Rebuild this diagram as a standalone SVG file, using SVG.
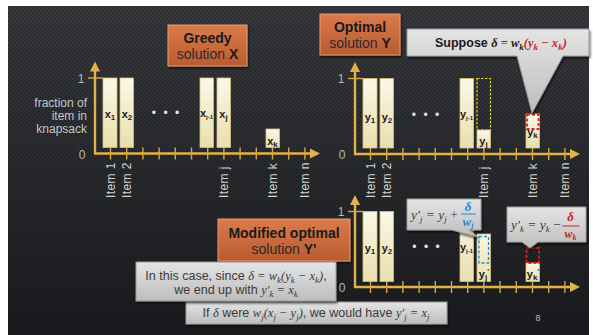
<svg xmlns="http://www.w3.org/2000/svg" xmlns:xlink="http://www.w3.org/1999/xlink" width="593" height="335" viewBox="0 0 593 335">
<style>
.sans{font-family:"Liberation Sans","DejaVu Sans",sans-serif}
.math{font-family:"Liberation Serif","DejaVu Serif",serif;font-style:italic}
.bar{fill:url(#barG);stroke:#d6c07a;stroke-width:0.8}
.ax{stroke:#e2b24a;stroke-width:2.4;fill:none}
.tk{stroke:#d6a845;stroke-width:1.4;fill:none}
.axf{fill:#e2b24a}
.num{font-family:"Liberation Sans",sans-serif;font-size:12px;fill:#b8b8b8;text-anchor:middle}
.item{font-family:"Liberation Sans",sans-serif;font-size:12px;fill:#d2d2d2;letter-spacing:0.4px}
.bl{font-family:"Liberation Sans",sans-serif;font-weight:bold;font-size:11px;fill:#1a1a1a;text-anchor:middle}
.org{fill:url(#orgG);stroke:#e89a6e;stroke-width:1;filter:url(#sh)}
.gray{fill:url(#grayG);stroke:#9a9a9a;stroke-width:1;filter:url(#sh)}
.gt{fill:#3a3a3a}
.red{fill:#c8242b}
.blue{fill:#2a86d0}
</style>
<defs>
<linearGradient id="bgG" x1="0" y1="0" x2="0" y2="1">
<stop offset="0" stop-color="#37393d"/>
<stop offset="1" stop-color="#1b1c1f"/>
</linearGradient>
<pattern id="tex" width="4" height="4" patternUnits="userSpaceOnUse">
<rect width="2" height="2" fill="#000" opacity="0.16"/>
<rect x="2" y="2" width="2" height="2" fill="#000" opacity="0.16"/>
</pattern>
<linearGradient id="barG" x1="0" y1="0" x2="0" y2="1">
<stop offset="0" stop-color="#fbf8e8"/>
<stop offset="1" stop-color="#e9dfac"/>
</linearGradient>
<linearGradient id="orgG" x1="0" y1="0" x2="0" y2="1">
<stop offset="0" stop-color="#db7b4b"/>
<stop offset="1" stop-color="#b95a31"/>
</linearGradient>
<linearGradient id="grayG" x1="0" y1="0" x2="0" y2="1">
<stop offset="0" stop-color="#e4e4e4"/>
<stop offset="1" stop-color="#bdbdbd"/>
</linearGradient>
<filter id="sh" x="-10%" y="-20%" width="120%" height="150%">
<feDropShadow dx="1" dy="2" stdDeviation="1.2" flood-color="#000" flood-opacity="0.6"/>
</filter>
<g id="axis">
<line class="ax" x1="0" y1="0.5" x2="0" y2="-84"/>
<polygon class="axf" points="0,-92 -5,-82 5,-82"/>
<line class="ax" x1="-1" y1="0" x2="217" y2="0"/>
<polygon class="axf" points="225,0 215,-5 215,5"/>
<line class="tk" x1="-7" y1="-75.5" x2="8" y2="-75.5"/>
<path class="tk" d="M15.5,-6v12M31.7,-6v12M47.9,-6v12M64.1,-6v12M80.3,-6v12M96.5,-6v12M112.7,-6v12M128.9,-6v12M145.1,-6v12M161.3,-6v12M177.5,-6v12M193.7,-6v12M209.9,-6v12"/>
<text class="num" x="-14" y="-71">1</text>
<text class="num" x="-13" y="5">0</text>
</g>
</defs>

<rect x="8" y="6" width="581" height="329" fill="url(#bgG)"/>
<rect x="8" y="6" width="581" height="329" fill="url(#tex)"/>

<!-- Greedy chart -->
<g id="greedy-chart">
<use xlink:href="#axis" x="95" y="153.5"/>
<g id="greedy-bars">
<rect class="bar" x="103" y="78" width="14" height="69.5"/>
<rect class="bar" x="120" y="78" width="13.5" height="69.5"/>
<rect class="bar" x="200" y="78" width="13.5" height="69.5"/>
<rect class="bar" x="217" y="78" width="13.5" height="69.5"/>
<rect class="bar" x="266" y="129" width="13.5" height="18.5"/>
<text class="bl" x="110" y="118">x<tspan font-size="8" dy="2">1</tspan></text>
<text class="bl" x="127" y="118">x<tspan font-size="8" dy="2">2</tspan></text>
<text class="bl" x="206.5" y="117" font-size="8">x<tspan font-size="6" dy="2">j-1</tspan></text>
<text class="bl" x="223.5" y="118">x<tspan font-size="8" dy="2">j</tspan></text>
<text class="bl" x="272.5" y="145">x<tspan font-size="8" dy="2">k</tspan></text>
<text x="166.5" y="117" fill="#e8e8e8" font-family="Liberation Sans,sans-serif" font-size="12" text-anchor="middle" letter-spacing="2">• • •</text>
</g>
<g id="greedy-labels" class="item">
<text transform="translate(114.5,198) rotate(-90)">Item 1</text>
<text transform="translate(130.7,198) rotate(-90)">Item 2</text>
<text transform="translate(227.9,198) rotate(-90)">Item j</text>
<text transform="translate(276.5,198) rotate(-90)">Item k</text>
<text transform="translate(308.9,198) rotate(-90)">Item n</text>
</g>
<g id="yaxis-title" font-family="Liberation Sans,sans-serif" font-size="12" fill="#c6c6c6" text-anchor="end">
<text x="87" y="107">fraction of</text>
<text x="87" y="120">item in</text>
<text x="87" y="133">knapsack</text>
</g>
</g>

<g id="greedy-title">
<rect class="org" x="168" y="25" width="79" height="41"/>
<text class="sans" x="207.5" y="43" font-size="14" font-weight="bold" fill="#1a1a1a" text-anchor="middle">Greedy</text>
<text class="sans" x="207.5" y="59" font-size="14" fill="#2a2a2a" text-anchor="middle">solution <tspan font-weight="bold" fill="#1a1a1a">X</tspan></text>
</g>

<!-- Optimal chart -->
<g id="optimal-chart">
<use xlink:href="#axis" x="355" y="154"/>
<g id="optimal-bars">
<rect class="bar" x="363" y="78.5" width="14" height="69.5"/>
<rect class="bar" x="380" y="78.5" width="13.5" height="69.5"/>
<rect class="bar" x="460" y="78.5" width="13.5" height="69.5"/>
<rect x="477" y="78.5" width="13.5" height="51.5" fill="none" stroke="#e3d422" stroke-width="1.2" stroke-dasharray="2.5,1.5"/>
<rect class="bar" x="477" y="130" width="13.5" height="18"/>
<rect class="bar" x="526" y="114" width="13.5" height="34"/>
<rect x="527" y="114.5" width="11.5" height="14.5" fill="none" stroke="#e21f1f" stroke-width="1.8" stroke-dasharray="3,2"/>
<text class="bl" x="370" y="121">y<tspan font-size="8" dy="2">1</tspan></text>
<text class="bl" x="387" y="121">y<tspan font-size="8" dy="2">2</tspan></text>
<text class="bl" x="466.5" y="118" font-size="8">y<tspan font-size="6" dy="2">j-1</tspan></text>
<text class="bl" x="483.5" y="145">y<tspan font-size="8" dy="2">j</tspan></text>
<text class="bl" x="532.5" y="136">y<tspan font-size="8" dy="2">k</tspan></text>
<text x="426.5" y="119" fill="#e8e8e8" font-family="Liberation Sans,sans-serif" font-size="12" text-anchor="middle" letter-spacing="2">• • •</text>
</g>
<g id="optimal-labels" class="item">
<text transform="translate(374.5,198) rotate(-90)">Item 1</text>
<text transform="translate(390.7,198) rotate(-90)">Item 2</text>
<text transform="translate(487.9,198) rotate(-90)">Item j</text>
<text transform="translate(536.5,198) rotate(-90)">Item k</text>
<text transform="translate(568.9,198) rotate(-90)">Item n</text>
</g>
</g>

<g id="optimal-title">
<rect class="org" x="320" y="14" width="80" height="41"/>
<text class="sans" x="360" y="32" font-size="14" font-weight="bold" fill="#1a1a1a" text-anchor="middle">Optimal</text>
<text class="sans" x="360" y="48" font-size="14" fill="#2a2a2a" text-anchor="middle">solution <tspan font-weight="bold" fill="#1a1a1a">Y</tspan></text>
</g>

<g id="suppose-callout">
<path class="gray" d="M407,29 H589 V56 H563 L532,113 L517,56 H407 Z"/>
<text x="435" y="47" font-size="12.5"><tspan class="sans" font-weight="bold" fill="#1a1a1a">Suppose </tspan><tspan class="math" font-weight="bold" fill="#1a1a1a">δ</tspan><tspan font-family="Liberation Serif,serif" fill="#1a1a1a"> = </tspan><tspan class="math" font-weight="bold" fill="#1a1a1a">w</tspan><tspan class="math" font-weight="bold" fill="#1a1a1a" font-size="9" dy="2.5">k</tspan><tspan class="math red" font-weight="bold" dy="-2.5">(y</tspan><tspan class="math red" font-weight="bold" font-size="9" dy="2.5">k</tspan><tspan class="math red" font-weight="bold" dy="-2.5"> − x</tspan><tspan class="math red" font-weight="bold" font-size="9" dy="2.5">k</tspan><tspan class="math red" font-weight="bold" dy="-2.5">)</tspan></text>
</g>

<!-- Modified chart -->
<g id="modified-chart">
<use xlink:href="#axis" x="355" y="287"/>
<g id="modified-bars">
<rect class="bar" x="363" y="211.5" width="14" height="70"/>
<rect class="bar" x="380" y="211.5" width="13.5" height="70"/>
<rect class="bar" x="460" y="211.5" width="13.5" height="70"/>
<rect class="bar" x="477" y="234" width="13.5" height="47.5"/>
<rect x="479" y="236.5" width="9.5" height="26.5" fill="none" stroke="#2a86d0" stroke-width="1.3" stroke-dasharray="3,2"/>
<rect class="bar" x="526" y="263" width="13.5" height="18.5"/>
<rect x="526.5" y="248" width="12.5" height="15" fill="none" stroke="#e21f1f" stroke-width="1.8" stroke-dasharray="3,2"/>
<text class="bl" x="370" y="252">y<tspan font-size="8" dy="2">1</tspan></text>
<text class="bl" x="387" y="252">y<tspan font-size="8" dy="2">2</tspan></text>
<text class="bl" x="466.5" y="251" font-size="8">y<tspan font-size="6" dy="2">j-1</tspan></text>
<text class="bl" x="484" y="278">y<tspan font-size="8" dy="2">j</tspan><tspan font-size="8" dy="-6">'</tspan></text>
<text class="bl" x="533" y="278">y<tspan font-size="8" dy="2">k</tspan><tspan font-size="8" dy="-6">'</tspan></text>
<text x="427" y="251" fill="#e8e8e8" font-family="Liberation Sans,sans-serif" font-size="12" text-anchor="middle" letter-spacing="2">• • •</text>
</g>
</g>

<g id="yj-callout">
<path class="gray" d="M407,199 H481 V230 H469 L478,237 L452,230 H407 Z"/>
<text x="411" y="219" font-size="13.5" class="math gt">y′<tspan font-size="9" dy="3">j</tspan><tspan dy="-3"> = y</tspan><tspan font-size="9" dy="3">j</tspan><tspan dy="-3" font-style="normal" font-family="Liberation Serif,serif"> +</tspan></text>
<text x="468" y="211" font-size="13" font-weight="bold" class="math blue" text-anchor="middle">δ</text>
<line x1="461" y1="214" x2="476" y2="214" stroke="#2a86d0" stroke-width="1"/>
<text x="468" y="226" font-size="13" font-weight="bold" class="math blue" text-anchor="middle">w<tspan font-size="8" dy="2">j</tspan></text>
</g>

<g id="yk-callout">
<path class="gray" d="M507,207 H586 V242 H538 L530,248 L522,242 H507 Z"/>
<text x="511" y="229" font-size="13.5" class="math gt">y′<tspan font-size="9" dy="3">k</tspan><tspan dy="-3"> = y</tspan><tspan font-size="9" dy="3">k</tspan><tspan dy="-3" font-style="normal" font-family="Liberation Serif,serif"> −</tspan></text>
<text x="570.5" y="221" font-size="13" font-weight="bold" class="math red" text-anchor="middle">δ</text>
<line x1="562.5" y1="226" x2="579.5" y2="226" stroke="#c8242b" stroke-width="1"/>
<text x="570.5" y="238" font-size="12" font-weight="bold" class="math red" text-anchor="middle">w<tspan font-size="8" dy="2">k</tspan></text>
</g>

<g id="modified-title">
<rect class="org" x="218" y="219" width="132" height="42"/>
<text class="sans" x="284" y="238" font-size="14" font-weight="bold" fill="#1a1a1a" text-anchor="middle">Modified optimal</text>
<text class="sans" x="284" y="254" font-size="14" fill="#2a2a2a" text-anchor="middle">solution <tspan font-weight="bold" fill="#1a1a1a">Y'</tspan></text>
</g>

<g id="note-2">
<rect class="gray" x="186" y="302" width="261" height="22"/>
<text x="316" y="317" font-size="12.5" text-anchor="middle" class="gt"><tspan class="sans">If </tspan><tspan class="math">δ</tspan><tspan class="sans"> were </tspan><tspan class="math">w<tspan font-size="9" dy="2.5">j</tspan><tspan dy="-2.5">(x</tspan><tspan font-size="9" dy="2.5">j</tspan><tspan dy="-2.5"> − y</tspan><tspan font-size="9" dy="2.5">j</tspan><tspan dy="-2.5">)</tspan></tspan><tspan class="sans">, we would have </tspan><tspan class="math">y′<tspan font-size="9" dy="2.5">j</tspan><tspan dy="-2.5"> = x</tspan><tspan font-size="9" dy="2.5">j</tspan></tspan></text>
</g>

<g id="note-1">
<rect class="gray" x="136" y="262" width="200" height="39"/>
<text x="236" y="280" font-size="12.5" text-anchor="middle" class="gt"><tspan class="sans">In this case, since </tspan><tspan class="math">δ = w<tspan font-size="9" dy="2.5">k</tspan><tspan dy="-2.5">(y</tspan><tspan font-size="9" dy="2.5">k</tspan><tspan dy="-2.5"> − x</tspan><tspan font-size="9" dy="2.5">k</tspan><tspan dy="-2.5">)</tspan></tspan><tspan class="sans">,</tspan></text>
<text x="236" y="294" font-size="12.5" text-anchor="middle" class="gt"><tspan class="sans">we end up with </tspan><tspan class="math">y′<tspan font-size="9" dy="2.5">k</tspan><tspan dy="-2.5"> = x</tspan><tspan font-size="9" dy="2.5">k</tspan></tspan></text>
</g>

<text x="538" y="321" font-family="Liberation Sans,sans-serif" font-size="9" fill="#bdbdbd" text-anchor="middle">8</text>
</svg>
